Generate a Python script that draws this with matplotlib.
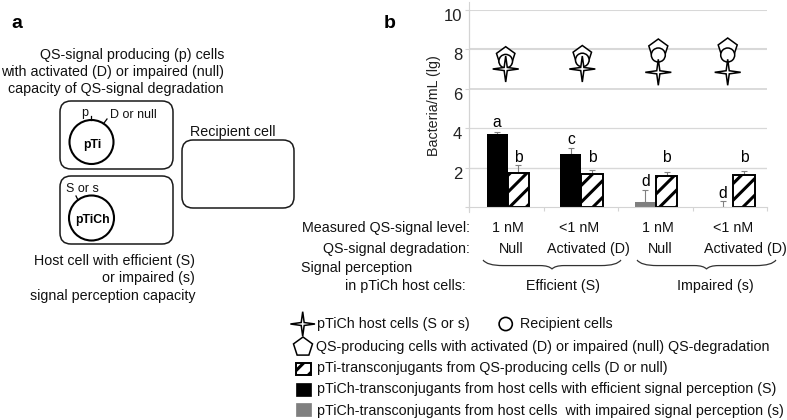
import numpy as np
import matplotlib
matplotlib.use("Agg")
import matplotlib.pyplot as plt
from matplotlib.patches import FancyBboxPatch, Circle, Polygon, Rectangle, PathPatch
from matplotlib.path import Path
from matplotlib.transforms import ScaledTranslation

plt.rcParams['font.family'] = ['Liberation Sans', 'DejaVu Sans']
plt.rcParams['hatch.linewidth'] = 2.2

W, H = 787, 420
# ---- data
transconj_pTiCh = [3.7, 2.7, 0.25, 0.0]
transconj_pTiCh_err = [0.1, 0.3, 0.6, 0.3]
transconj_pTi = [1.75, 1.7, 1.55, 1.6]
transconj_pTi_err = [0.4, 0.2, 0.25, 0.25]
letters_pTiCh = ['a', 'c', 'd', 'd']
letters_pTi = ['b', 'b', 'b', 'b']
yticks = [2, 4, 6, 8, 10]
signal_level = ['1 nM', '<1 nM', '1 nM', '<1 nM']
degradation = ['Null', 'Activated (D)', 'Null', 'Activated (D)']
perception = ['Efficient (S)', 'Impaired (s)']
legend_lines = ['pTi-transconjugants from QS-producing cells (D or null)',
                'pTiCh-transconjugants from host cells with efficient signal perception (S)',
                'pTiCh-transconjugants from host cells  with impaired signal perception (s)']

fig = plt.figure(figsize=(W/100, H/100), dpi=100)
FS = 10.25

ov = fig.add_axes([0, 0, 1, 1], zorder=3)
ov.set_xlim(0, W); ov.set_ylim(H, 0); ov.axis('off'); ov.patch.set_alpha(0)

# ---- bar chart
L, R, T, B = 469, 767, 10, 207
ax = fig.add_axes([L/W, 1-B/H, (R-L)/W, (B-T)/H], zorder=1)
ax.set_xlim(0, 4); ax.set_ylim(0, 10)
ax.patch.set_alpha(0)
for s in ['top', 'right']:
    ax.spines[s].set_visible(False)
for s in ['left', 'bottom']:
    ax.spines[s].set_color('#d4d4d4'); ax.spines[s].set_linewidth(0.8)
ov.plot([469, 469], [2, 212], color='#d4d4d4', lw=0.8, zorder=0)
for y, lw in zip(yticks, [1.0, 0.9, 1.3, 1.5, 1.5]):
    ax.axhline(y, color='#d8d8d8', lw=lw, zorder=0)
centers = np.array([0.52, 1.51, 2.51, 3.55])
bw = 0.285
ec_err = '#808080'
ax.bar(centers-bw/2, transconj_pTiCh, bw, color=['black', 'black', '#7f7f7f', '#7f7f7f'], zorder=2)
ax.bar(centers+bw/2, transconj_pTi, bw, facecolor='white', edgecolor='black', hatch='//', lw=1.4, zorder=2)
ax.errorbar(centers-bw/2, transconj_pTiCh, yerr=[[0]*4, transconj_pTiCh_err], fmt='none',
            ecolor=ec_err, elinewidth=0.8, capsize=2.5, capthick=0.8, zorder=1)
ax.errorbar(centers+bw/2, transconj_pTi, yerr=[[0]*4, transconj_pTi_err], fmt='none',
            ecolor=ec_err, elinewidth=0.8, capsize=2.5, capthick=0.8, zorder=1)
ax.set_xticks([0, 1, 2, 3, 4]); ax.set_xticklabels([])
ax.tick_params(axis='x', length=3, color='#d4d4d4')
ax.set_yticks(yticks + [0])
ax.set_yticklabels([str(v) for v in yticks] + [''], fontsize=12, color='#222222')
ax.tick_params(axis='y', length=3, color='#d4d4d4', pad=2)
for lab in ax.get_yticklabels():
    lab.set_transform(lab.get_transform() + ScaledTranslation(0, -5/100, fig.dpi_scale_trans))
ov.text(434, 106, 'Bacteria/mL (lg)', rotation=90, fontsize=FS, ha='center', va='center', color='#222222')

# significance letters (vertical centre, axis units)
for c, y, l in zip(centers, [4.3, 3.45, 1.27, 0.7], letters_pTiCh):
    ax.text(c-bw/2, y, l, ha='center', va='center', fontsize=FS+1)
for c, l in zip(centers, letters_pTi):
    ax.text(c+bw/2, 2.5, l, ha='center', va='center', fontsize=FS+1)

# ---- glyph helpers
def star(x, y, r, lw=1.1, inner=0.17):
    pts = []
    for i in range(8):
        a = np.pi/2 + i*np.pi/4
        rr = r if i % 2 == 0 else r*inner
        pts.append((x+rr*np.cos(a), y-rr*np.sin(a)))
    ov.add_patch(Polygon(pts, closed=True, fc='white', ec='black', lw=lw, zorder=6))

def penta(x, y, r, lw=1.1):
    pts = [(x+r*np.cos(np.pi/2+i*2*np.pi/5), y-r*np.sin(np.pi/2+i*2*np.pi/5)) for i in range(5)]
    ov.add_patch(Polygon(pts, closed=True, fc='white', ec='black', lw=lw, zorder=4))

def circ(x, y, r, lw=1.1):
    ov.add_patch(Circle((x, y), r, fc='white', ec='black', lw=lw, zorder=5))

for x, top in [(505.7, 46.7), (582.3, 45.5)]:
    penta(x, top+9.7, 9.7)
    circ(x, top+14.5, 6.8)
    star(x, 69, 13)
for x, top in [(658.3, 39), (727.7, 38)]:
    penta(x, top+10, 10)
    circ(x, 55, 7)
    star(x, 72.3, 13)

# ---- row labels
rt = dict(fontsize=FS, color='#111111')
ov.text(470, 228, 'Measured QS-signal level:', ha='right', va='center', **rt)
ov.text(470, 249, 'QS-signal degradation:', ha='right', va='center', **rt)
ov.text(301, 268, 'Signal perception', ha='left', va='center', **rt)
ov.text(466, 286, 'in pTiCh host cells:', ha='right', va='center', **rt)
for x, s in zip([508, 579, 658, 733], signal_level):
    ov.text(x, 228, s, ha='center', va='center', **rt)
for x, s in zip([511, 588, 660, 745], degradation):
    ov.text(x, 249, s, ha='center', va='center', **rt)
for x, s in zip([563, 715], perception):
    ov.text(x, 286, s, ha='center', va='center', **rt)

def brace(x0, x1, ytop, ybot):
    xm = (x0+x1)/2
    ymid = ytop + (ybot-ytop)*0.62
    v = [(x0, ytop), (x0+4, ymid), (x0+20, ymid), (xm-12, ymid), (xm-3, ymid), (xm, ybot),
         (xm+3, ymid), (xm+12, ymid), (x1-20, ymid), (x1-4, ymid), (x1, ytop)]
    c = [Path.MOVETO, Path.CURVE3, Path.CURVE3, Path.LINETO, Path.CURVE3, Path.CURVE3,
         Path.CURVE3, Path.CURVE3, Path.LINETO, Path.CURVE3, Path.CURVE3]
    ov.add_patch(PathPatch(Path(v, c), fc='none', ec='#333333', lw=0.9))
brace(483, 621, 260, 269)
brace(637, 776, 260, 269)

# ---- panel labels
ov.text(11, 23, 'a', fontsize=14, fontweight='bold', ha='left', va='center')
ov.text(384, 23, 'b', fontsize=14, fontweight='bold', ha='left', va='center')

# ---- panel a
for y, s in [(55, 'QS-signal producing (p) cells'), (72, 'with activated (D) or impaired (null)'),
             (89, 'capacity of QS-signal degradation')]:
    ov.text(224, y, s, ha='right', va='center', **rt)
for y, s in [(261, 'Host cell with efficient (S)'), (278, 'or impaired (s)'),
             (296, 'signal perception capacity')]:
    ov.text(195, y, s, ha='right', va='center', **rt)

def rbox(x0, y0, x1, y1, rad=11):
    ov.add_patch(FancyBboxPatch((x0+rad, y0+rad), x1-x0-2*rad, y1-y0-2*rad,
                                boxstyle=f'round,pad={rad},rounding_size={rad}',
                                fc='none', ec='#1a1a1a', lw=1.1))
rbox(60, 101, 173, 169)
rbox(60, 176, 173, 244)
rbox(182, 140, 294, 208)
ov.add_patch(Circle((91.5, 142), 22, fc='none', ec='black', lw=1.5))
ov.add_patch(Circle((91.5, 218), 22.5, fc='none', ec='black', lw=1.5))
ov.text(92, 145, 'pTi', fontsize=8.8, fontweight='bold', ha='center', va='center')
ov.text(92, 220, 'pTiCh', fontsize=8.8, fontweight='bold', ha='center', va='center')
ov.plot([91, 91], [116, 120], color='black', lw=0.9)
ov.plot([104, 107], [123, 119], color='black', lw=0.9)
ov.plot([76, 78], [196, 200], color='black', lw=0.9)
ov.text(85, 113, 'p', fontsize=9, ha='center', va='center', color='#111111')
ov.text(133.5, 115, 'D or null', fontsize=9, ha='center', va='center', color='#111111')
ov.text(82, 189, 'S or s', fontsize=9, ha='center', va='center', color='#111111')
ov.text(233, 132, 'Recipient cell', ha='center', va='center', **rt)

# ---- legend
star(302.7, 324, 12.3)
ov.text(317, 324, 'pTiCh host cells (S or s)', ha='left', va='center', **rt)
circ(505.7, 324, 6.6, lw=1.2)
ov.text(520, 324, 'Recipient cells', ha='left', va='center', **rt)
penta(303, 347, 10)
ov.text(316, 346.7, 'QS-producing cells with activated (D) or impaired (null) QS-degradation', ha='left', va='center', **rt)
ov.add_patch(Rectangle((296, 363), 14.7, 11.5, fc='white', ec='black', hatch='//', lw=1.4))
ov.add_patch(Rectangle((296, 383), 14.7, 12.5, fc='black', ec='black', lw=0.5))
ov.add_patch(Rectangle((296, 403), 14.7, 13, fc='#7f7f7f', ec='#7f7f7f', lw=0.5))
for y, s in zip([368.3, 389.3, 411], legend_lines):
    ov.text(317, y, s, ha='left', va='center', **rt)

fig.savefig('out.png', dpi=100)
